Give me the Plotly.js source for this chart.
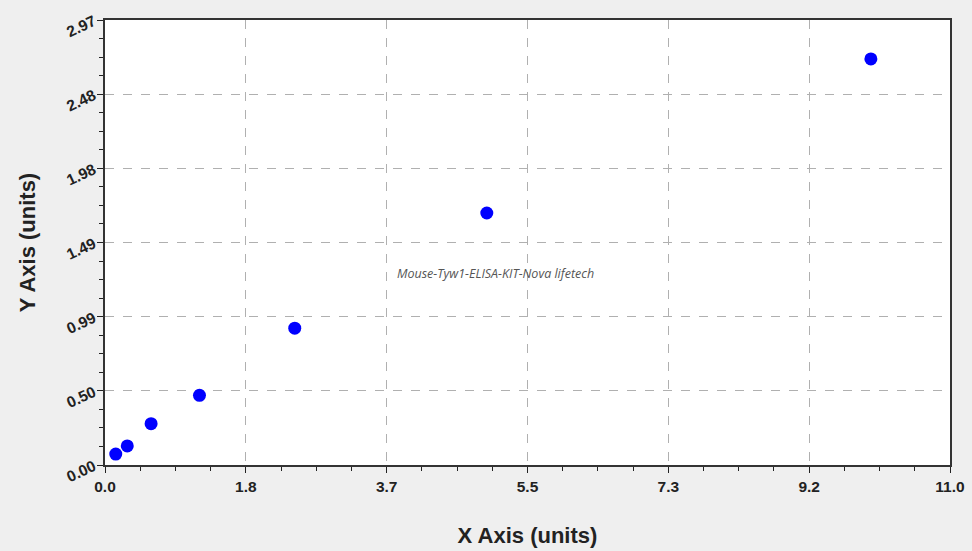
<!DOCTYPE html>
<html>
<head>
<meta charset="utf-8">
<script src="https://cdn.plot.ly/plotly-3.0.1.min.js"></script>
<style>
  html, body { margin: 0; padding: 0; background: #efefef; }
  #plot { width: 972px; height: 551px; }
</style>
</head>
<body>
<div id="plot"></div>
<script>
// standard curve points
const conc = [0.14, 0.29, 0.6, 1.23, 2.47, 4.97, 9.97];
const od = [0.073, 0.127, 0.276, 0.465, 0.913, 1.682, 2.71];

const xTickVals = [0, 11 / 6, 22 / 6, 5.5, 44 / 6, 55 / 6, 11];
const xTickText = ["0.0", "1.8", "3.7", "5.5", "7.3", "9.2", "11.0"];
const yTickVals = [0, 0.495, 0.99, 1.485, 1.98, 2.475, 2.97];
const yTickText = ["0.00", "0.50", "0.99", "1.49", "1.98", "2.48", "2.97"];

const watermark = "Mouse-Tyw1-ELISA-KIT-Nova lifetech";

const tickFont = { family: "Arial, Liberation Sans, sans-serif", size: 15.5, color: "#222", weight: "bold" };
const titleFont = { family: "Arial, Liberation Sans, sans-serif", size: 22, color: "#222", weight: "bold" };

const trace = {
  type: "scatter",
  mode: "markers",
  x: conc,
  y: od,
  marker: { size: 13, color: "#0000ff" },
  hoverinfo: "x+y",
};

const layout = {
  width: 972,
  height: 551,
  paper_bgcolor: "#efefef",
  plot_bgcolor: "#ffffff",
  margin: { l: 105, r: 22, t: 20, b: 86 },
  showlegend: false,
  xaxis: {
    range: [0, 11],
    tickmode: "array",
    tickvals: xTickVals,
    ticktext: xTickText,
    ticks: "outside",
    ticklen: 6,
    tickcolor: "#222",
    tickfont: tickFont,
    showline: true,
    linecolor: "#333",
    linewidth: 2,
    mirror: true,
    showgrid: true,
    gridcolor: "#b0b0b0",
    griddash: "dash",
    gridwidth: 1,
    zeroline: false,
    minor: { dtick: 11 / 24, ticks: "outside", ticklen: 4, tickcolor: "#222", showgrid: false },
    title: { text: "X Axis (units)", font: titleFont, standoff: 34 },
  },
  yaxis: {
    range: [0, 2.97],
    tickmode: "array",
    tickvals: yTickVals,
    ticktext: yTickText,
    tickangle: -25,
    ticks: "outside",
    ticklen: 6,
    tickcolor: "#222",
    tickfont: tickFont,
    showline: true,
    linecolor: "#333",
    linewidth: 2,
    mirror: true,
    showgrid: true,
    gridcolor: "#b0b0b0",
    griddash: "dash",
    gridwidth: 1,
    zeroline: false,
    minor: { dtick: 0.495 / 4, ticks: "outside", ticklen: 4, tickcolor: "#222", showgrid: false },
    title: { text: "Y Axis (units)", font: titleFont, standoff: 22 },
  },
  annotations: [
    {
      x: 3.78,
      y: 1.275,
      xref: "x",
      yref: "y",
      xanchor: "left",
      yanchor: "middle",
      showarrow: false,
      text: "<i>" + watermark + "</i>",
      font: { family: "Open Sans, DejaVu Sans, sans-serif", size: 12.5, color: "#555" },
    },
  ],
};

Plotly.newPlot("plot", [trace], layout, { displayModeBar: false, staticPlot: true });
</script>
</body>
</html>
